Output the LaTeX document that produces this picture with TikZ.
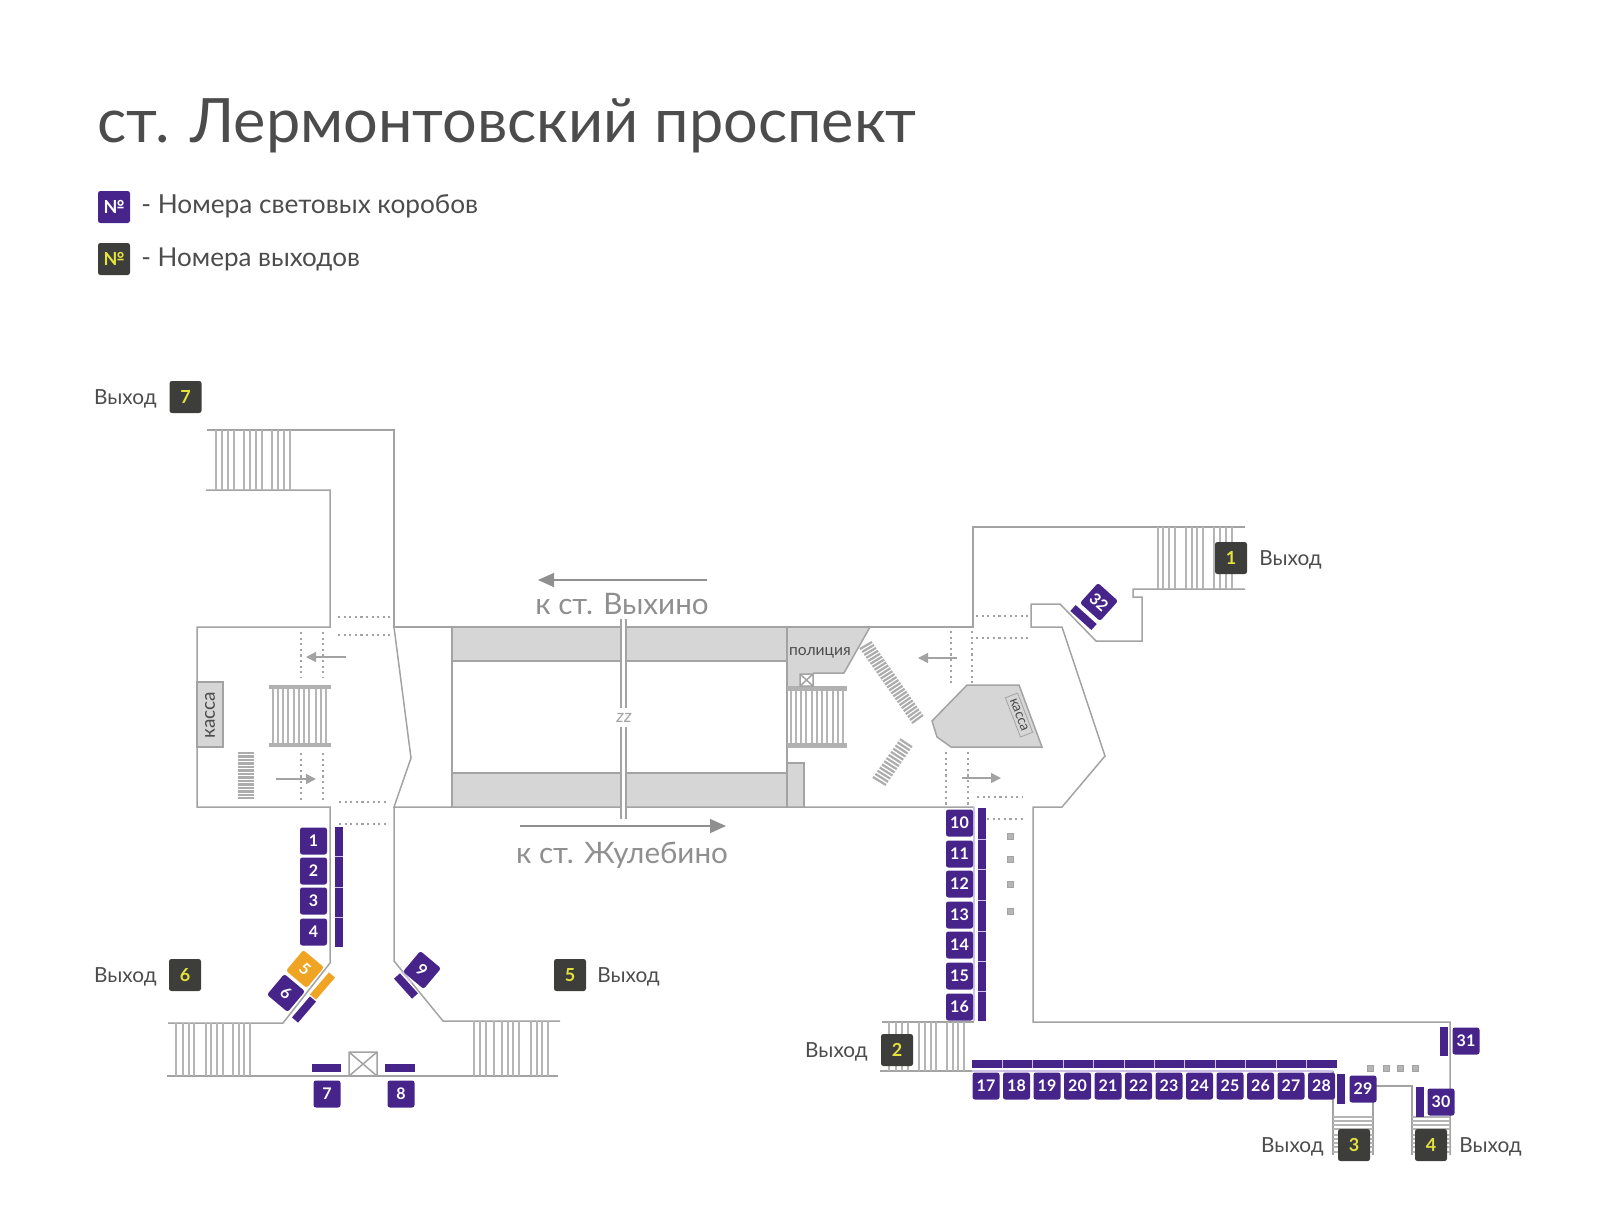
\documentclass[tikz,border=0pt]{standalone}
\usepackage{fontspec}
\setmainfont{Lato}
\usepackage{tikz}
\usetikzlibrary{arrows.meta,calc}
\definecolor{boxviolet}{HTML}{47248A}
\definecolor{exitdark}{HTML}{3D3D3B}
\definecolor{exityellow}{HTML}{E4E23C}
\definecolor{boxorange}{HTML}{EFA423}
\definecolor{wallgray}{HTML}{A3A3A3}
\definecolor{fillgray}{HTML}{D6D6D6}
\definecolor{inkgray}{HTML}{4C4C4C}
\definecolor{tracegray}{HTML}{8F8F8F}
\definecolor{lilac}{HTML}{CFC2EA}
\tikzset{
  wall/.style={draw=wallgray,line width=0.75pt},
  tread/.style={draw=wallgray!80,line width=0.6pt},
  rung/.style={draw=wallgray!90,line width=1.1pt},
  dotrow/.style={draw=wallgray,line width=1.2pt,dash pattern=on 1.1pt off 1.7pt},
  flow/.style={draw=wallgray,line width=0.75pt,-{Triangle[length=5pt,width=5pt]}},
  track/.style={draw=tracegray,line width=0.75pt,-{Triangle[length=8pt,width=7pt]}},
  numbox/.style={fill=boxviolet,rounded corners=1.2pt,minimum size=13.5pt,inner sep=0pt,text=white,font=\bfseries\fontsize{8}{8}\selectfont},
  orangebox/.style={numbox,fill=boxorange},
  exitbox/.style={fill=exitdark,rounded corners=1.2pt,minimum size=16pt,inner sep=0pt,text=exityellow,font=\bfseries\fontsize{9}{9}\selectfont},
  exitword/.style={text=inkgray,inner sep=0pt,font=\fontsize{10.4}{11}\selectfont},
  bar/.style={fill=boxviolet},
  seam/.style={draw=lilac,line width=0.5pt},
  pillar/.style={fill=wallgray!80,draw=wallgray,line width=0.3pt},
  tracktext/.style={text=tracegray,inner sep=0pt,font=\fontsize{14.8}{16}\selectfont}
}
\begin{document}
\begin{tikzpicture}[x=0.5pt,y=-0.5pt]
\useasboundingbox (0,0) rectangle (1600,1216);
% heading
\node [anchor=west,inner sep=0pt,text=inkgray,font=\fontsize{30.6}{34}\selectfont] (title) at (97,126) {ст. Лермонтовский проспект};
\node [numbox,minimum size=16pt,font=\bfseries\fontsize{9}{9}\selectfont] (keybox) at (114,207) {№};
\node [exitbox] (keyexit) at (114,259) {№};
\node [anchor=west,inner sep=0pt,text=inkgray,font=\fontsize{13.1}{14}\selectfont] (keyboxtext) at (141,206) {- Номера световых коробов};
\node [anchor=west,inner sep=0pt,text=inkgray,font=\fontsize{13}{14}\selectfont] (keyexittext) at (141,259) {- Номера выходов};
% grey areas
\fill [fillgray] (452,628) rectangle (787,661);
\fill [fillgray] (452,773) rectangle (787,807);
\fill [fillgray] (787,763) rectangle (804,807);
\fill [fillgray] (197,682) rectangle (223,747);
\fill [fillgray] (787,627) -- (870,627) -- (844,673) -- (813,673) -- (813,686) -- (787,686) -- cycle;
\fill [fillgray] (967,685) -- (1019,685) -- (1042,747) -- (951,747) -- (937,737) -- (932,721) -- cycle;
\draw [wall] (197,682) rectangle (223,747);
\draw [wall] (787,763) -- (804,763) -- (804,807);
\draw [wall] (870,627) -- (844,673) -- (813,673);
\draw [wall] (967,685) -- (1019,685) -- (1042,747) -- (951,747) -- (937,737) -- (932,721) -- cycle;
% walls
\draw [wall] (207,430) -- (394,430) -- (394,627) -- (973,627) -- (973,527) -- (1245,527);
\draw [wall] (206,490) -- (330,490) -- (330,627) -- (197,627) -- (197,807) -- (330,807) -- (330,963) -- (283,1023) -- (168,1023);
\draw [wall] (394,627) -- (411,758) -- (394,807) -- (974,807);
\draw [wall] (394,807) -- (394,961) -- (443,1021) -- (560,1021);
\draw [wall] (167,1076) -- (558,1076);
\draw [wall] (1245,589) -- (1133,589) -- (1133,597) -- (1142,597) -- (1142,641) -- (1096,641) -- (1060,604) -- (1031,604) -- (1031,627) -- (1062,627) -- (1105,756) -- (1062,807) -- (1033,807) -- (1033,1022) -- (1450,1022) -- (1450,1155);
\draw [wall] (882,1022) -- (974,1022);
\draw [wall] (880,1071) -- (972,1071);
\draw [wall] (1333,1071) -- (1333,1155);
\draw [wall] (1373,1100) -- (1373,1155);
\draw [wall] (1373,1086) -- (1412,1086) -- (1412,1155);
\draw [wall] (452,627) -- (452,807);
\draw [wall] (452,661) -- (787,661);
\draw [wall] (452,773) -- (787,773);
\draw [wall] (787,627) -- (787,807);
\draw [seam,line width=0.9pt] (974,807) -- (974,1021);
\draw [seam,line width=0.9pt] (972,1071) -- (1333,1071);
% break in the hall
\fill [white] (621,620) rectangle (626,818);
\draw [wall] (621,619) -- (621,708);
\draw [wall] (626,619) -- (626,708);
\draw [wall] (621,727) -- (621,819);
\draw [wall] (626,727) -- (626,819);
\node [text=wallgray,inner sep=0pt,font=\itshape\fontsize{9}{9}\selectfont] (breakmark) at (624,718) {zz};
% stairs
\foreach \x in {216,222,228,234,244,250,256,262,272,278,284,290}
  \draw [tread] (\x,430) -- (\x,490);
\foreach \x in {176,183,189,194,206,211,217,223,233,239,244,250}
  \draw [tread] (\x,1023) -- (\x,1076);
\foreach \x in {474,480,486,494,502,508,513,519,531,537,542,548}
  \draw [tread] (\x,1021) -- (\x,1076);
\foreach \x in {1158,1163,1169,1175,1186,1192,1197,1203,1214,1220,1226,1232}
  \draw [tread] (\x,527) -- (\x,589);
\foreach \x in {889,896,902,908,919,925,931,936,947,953,958,964}
  \draw [tread] (\x,1022) -- (\x,1071);
\foreach \x in {273,278,283,288,294,299,304,309,316,321,326}
  \draw [tread] (\x,689) -- (\x,743);
\foreach \x in {791,796,801,806,812,817,822,827,833,838,843}
  \draw [tread] (\x,691) -- (\x,743);
\foreach \y in {1117,1121,1125,1129,1135,1139,1143,1147,1152}{
  \draw [tread] (1333,\y) -- (1373,\y);
  \draw [tread] (1412,\y) -- (1450,\y);
}
\fill [wallgray!85] (269,685) rectangle (331,689);
\fill [wallgray!85] (269,743) rectangle (331,747);
\fill [wallgray!85] (787,686) rectangle (847,691);
\fill [wallgray!85] (787,743) rectangle (847,748);
\foreach \y in {753,756.5,760,763.5,767,770.5,774,777.5,781,784.5,788,791.5,795,798}
  \draw [rung] (238,\y) -- (254,\y);
\coordinate (longa) at (860,649);
\coordinate (longb) at (872,642);
\coordinate (longc) at (912,723);
\coordinate (longd) at (923,715);
\foreach \t in {0,0.04,...,1.01}
  \draw [rung] ($(longa)!\t!(longc)$) -- ($(longb)!\t!(longd)$);
\coordinate (shorta) at (873,777);
\coordinate (shortb) at (886,785);
\coordinate (shortc) at (900,739);
\coordinate (shortd) at (912,747);
\foreach \t in {0,0.083,...,1.01}
  \draw [rung] ($(shorta)!\t!(shortc)$) -- ($(shortb)!\t!(shortd)$);
% lifts
\draw [wall] (349,1052) rectangle (377,1076) (349,1052) -- (377,1076) (349,1076) -- (377,1052);
\draw [wall,fill=white] (800,674) rectangle (813,686) (800,674) -- (813,686) (800,686) -- (813,674);
% passages marked with dots
\foreach \y in {617,635} \draw [dotrow] (338,\y) -- (390,\y);
\foreach \y in {802,824} \draw [dotrow] (339,\y) -- (387,\y);
\foreach \x in {301,323} \draw [dotrow] (\x,632) -- (\x,678);
\foreach \x in {301,323} \draw [dotrow] (\x,753) -- (\x,803);
\foreach \y in {616,638} \draw [dotrow] (976,\y) -- (1028,\y);
\draw [dotrow] (977,797) -- (1023,797);
\draw [dotrow] (987,819) -- (1023,819);
\foreach \x in {951,972} \draw [dotrow] (\x,631) -- (\x,683);
\foreach \x in {946,968} \draw [dotrow] (\x,752) -- (\x,805);
% arrows
\draw [flow] (346,657) -- (306,657);
\draw [flow] (276,779) -- (316,779);
\draw [flow] (957,658) -- (918,658);
\draw [flow] (962,778) -- (1001,778);
\draw [track] (707,580) -- (538,580);
\draw [track] (520,826) -- (726,826);
\node [tracktext] (towardsa) at (622,604) {к ст. Выхино};
\node [tracktext] (towardsb) at (622,855) {к ст. Жулебино};
% rooms
\node [text=inkgray,inner sep=0pt,font=\fontsize{7.8}{8}\selectfont] (police) at (820,653) {полиция};
\node [text=inkgray,inner sep=0pt,font=\fontsize{9.5}{10}\selectfont,rotate=90] (kassaa) at (210,715) {касса};
\node [draw=wallgray,fill=fillgray,line width=0.4pt,text=inkgray,inner sep=0pt,minimum width=21pt,minimum height=6.5pt,font=\fontsize{7}{7}\selectfont,rotate=-69] (kassab) at (1019,715) {касса};
% pillars
\foreach \y in {836,859,884,911} \draw [pillar] (1007,\y-3) rectangle (1013,\y+3);
\foreach \x in {1370,1386,1400,1415} \draw [pillar] (\x-3,1065) rectangle (\x+3,1071);
% light boxes, left
\foreach \n/\y in {1/841,2/871,3/901,4/932}
  \node [numbox] (b\n) at (313.5,\y) {\n};
\fill [bar] (335,827) rectangle (343,947);
\foreach \y in {856,887,917} \draw [seam] (335,\y) -- (343,\y);
\node [numbox] (b7) at (327,1094) {7};
\node [numbox] (b8) at (401,1094) {8};
\fill [bar] (312,1064) rectangle (341,1072);
\fill [bar] (385,1064) rectangle (415,1072);
\node [orangebox,rotate=-40] (b5) at (305,969) {5};
\node [numbox,rotate=-40] (b6) at (286,993) {6};
\node [numbox,rotate=-40] (b9) at (422,970) {9};
\draw [boxorange,line width=4pt] (332,975) -- (313,997);
\draw [boxviolet,line width=4pt] (313,999) -- (295,1020);
\draw [boxviolet,line width=4pt] (397,976) -- (415,996);
\draw [seam,line width=0.8pt] (402,972) -- (412,983);
% light boxes, right
\foreach \n/\y in {10/823,11/854,12/884,13/915,14/945,15/976,16/1007}
  \node [numbox] (b\n) at (959.5,\y) {\n};
\fill [bar] (978,808) rectangle (986,1021);
\foreach \y in {839,869,900,931,961,991} \draw [seam] (978,\y) -- (986,\y);
\foreach \n [evaluate=\n as \x using 986+(\n-17)*30.5] in {17,...,28}
  \node [numbox] (b\n) at (\x,1086) {\n};
\fill [bar] (972,1060) rectangle (1337,1068);
\foreach \k in {1,...,11} \draw [seam] (972+\k*30.4,1060) -- (972+\k*30.4,1068);
\fill [bar] (1337,1074) rectangle (1345,1104);
\node [numbox] (b29) at (1363,1089) {29};
\fill [bar] (1416,1087) rectangle (1424,1117);
\node [numbox] (b30) at (1441,1102) {30};
\fill [bar] (1440,1027) rectangle (1448,1056);
\node [numbox] (b31) at (1466,1041) {31};
\node [numbox,rotate=-42] (b32) at (1099,602) {32};
\draw [boxviolet,line width=4pt] (1073,608) -- (1094,627);
% exits
\node [exitbox] (x1) at (1231,558) {1};
\node [exitbox] (x2) at (897,1050) {2};
\node [exitbox] (x3) at (1354,1145) {3};
\node [exitbox] (x4) at (1431,1145) {4};
\node [exitbox] (x5) at (570,975) {5};
\node [exitbox] (x6) at (185,975) {6};
\node [exitbox] (x7) at (185.5,397) {7};
\node [exitword,anchor=west] (w1) at (1259,560) {Выход};
\node [exitword,anchor=east] (w2) at (868,1052) {Выход};
\node [exitword,anchor=east] (w3) at (1324,1147) {Выход};
\node [exitword,anchor=west] (w4) at (1459,1147) {Выход};
\node [exitword,anchor=west] (w5) at (597,977) {Выход};
\node [exitword,anchor=east] (w6) at (157,977) {Выход};
\node [exitword,anchor=east] (w7) at (157,399) {Выход};
\end{tikzpicture}
\end{document}
